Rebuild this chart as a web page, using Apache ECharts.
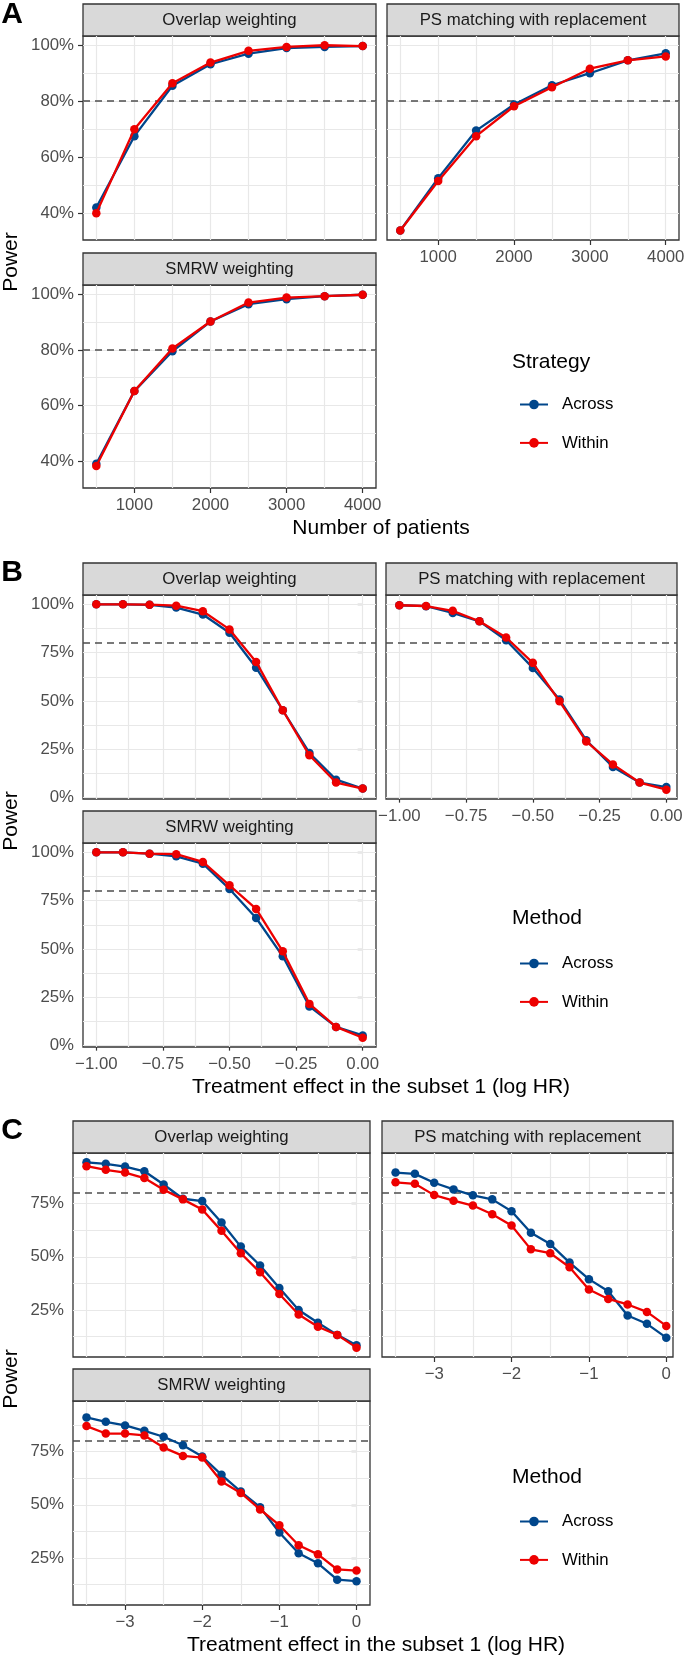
<!DOCTYPE html>
<html>
<head>
<meta charset="utf-8">
<title>Power curves</title>
<script src="https://cdn.jsdelivr.net/npm/echarts@6/dist/echarts.min.js"></script>
<style>
html, body { margin: 0; padding: 0; background: #fff; }
#chart { width: 685px; height: 1657px; }
</style>
</head>
<body>
<div id="chart"></div>
<script>
// ---- data ----
var patients = [500, 1000, 1500, 2000, 2500, 3000, 3500, 4000];
var logHrB = [-1, -0.9, -0.8, -0.7, -0.6, -0.5, -0.4, -0.3, -0.2, -0.1, 0];
var logHrC = [-3.5, -3.25, -3, -2.75, -2.5, -2.25, -2, -1.75, -1.5, -1.25, -1, -0.75, -0.5, -0.25, 0];

// A: power vs number of patients
var aOverlapAcross = [42, 67.5, 85.5, 93.2, 97, 99, 99.4, 99.7];
var aOverlapWithin = [40, 70, 86.4, 93.8, 98, 99.4, 100, 99.7];
var aPsAcross = [33.8, 52.5, 69.5, 78.8, 85.7, 90, 94.6, 97.1];
var aPsWithin = [33.8, 51.5, 67.5, 78.2, 85, 91.6, 94.6, 96];
var aSmrwAcross = [39.1, 65.2, 79.5, 90.2, 96.4, 98.2, 99.3, 99.8];
var aSmrwWithin = [38.3, 65.2, 80.5, 90.2, 97, 98.8, 99.3, 99.8];

// B: power vs treatment effect (log HR), -1..0
var bOverlapAcross = [100, 100, 99.7, 98.3, 94.7, 85.3, 67.2, 45.2, 23.1, 9.3, 4.7];
var bOverlapWithin = [100, 100, 99.8, 99.3, 96.4, 87, 70.2, 45.2, 21.9, 7.8, 4.7];
var bPsAcross = [99.5, 99, 95.5, 91.2, 81.4, 67.1, 50.7, 29.7, 15.9, 7.8, 5.5];
var bPsWithin = [99.5, 99.1, 96.6, 91.2, 82.8, 69.7, 49.8, 29.1, 17.2, 7.8, 4.1];
var bSmrwAcross = [100, 100, 99.3, 97.9, 94.1, 81, 66, 46.2, 20.3, 9.7, 5.3];
var bSmrwWithin = [100, 100, 99.3, 99, 95, 82.9, 70.7, 48.8, 21.6, 9.7, 4.1];

// C: power vs treatment effect (log HR), -3.5..0
var cOverlapAcross = [94.4, 93.7, 92.4, 90.2, 84, 77.3, 76.2, 66.1, 54.8, 45.9, 35.3, 25, 19, 13.3, 8.4];
var cOverlapWithin = [92.6, 90.9, 89.6, 87, 81.5, 77, 72.2, 62.2, 51.7, 42.7, 32.5, 22.9, 17.1, 13.3, 7.3];
var cPsAcross = [89.6, 89, 84.8, 81.7, 78.9, 77, 71.4, 61.3, 56, 47.3, 39.5, 33.8, 22.4, 18.5, 12];
var cPsWithin = [85, 84.3, 79, 76.4, 74.1, 70, 64.7, 53.5, 51.7, 45.1, 34.6, 30.2, 27.6, 24.1, 17.5];
var cSmrwAcross = [91.1, 89, 87.3, 84.8, 82, 78, 72.7, 64.1, 56.2, 48.9, 37, 27.2, 22.5, 14.8, 14.1];
var cSmrwWithin = [87, 83.5, 83.5, 82.6, 76.9, 73, 72.2, 61, 55.6, 47.8, 40.4, 31, 26.7, 19.6, 19.1];

// tick / grid values
var xTicksA = [1000, 2000, 3000, 4000];
var xMinorA = [500, 1500, 2500, 3500];
var yTicksA = [40, 60, 80, 100];
var yMinorA = [50, 70, 90];
var xTicksB = [-1, -0.75, -0.5, -0.25, 0];
var xMinorB = [-0.875, -0.625, -0.375, -0.125];
var yTicksB = [0, 25, 50, 75, 100];
var yMinorB = [12.5, 37.5, 62.5, 87.5];
var xTicksC = [-3, -2, -1, 0];
var xMinorC = [-3.5, -2.5, -1.5, -0.5];
var yTicksC = [25, 50, 75];
var yMinorC = [12.5, 37.5, 62.5, 87.5];

var target = 80;
var seriesNames = ['Across', 'Within'];

var BLUE = '#00468B';
var RED = '#ED0000';
var FONT = '"Liberation Sans", Arial, Helvetica, sans-serif';

function minus(s) { return String(s).replace('-', '\u2212'); }
var fmtA = function (v) { return String(v); };
var fmtB = function (v) { return minus(v.toFixed(2)); };
var fmtC = function (v) { return minus(v); };

var scaleA = { x: [325, 4175], y: [30.4, 103.3], xt: xTicksA, xm: xMinorA, yt: yTicksA, ym: yMinorA, fx: fmtA, xs: patients };
var scaleB = { x: [-1.05, 0.05], y: [-0.7, 104.8], xt: xTicksB, xm: xMinorB, yt: yTicksB, ym: yMinorB, fx: fmtB, xs: logHrB };
var scaleC = { x: [-3.675, 0.175], y: [2.9, 98.8], xt: xTicksC, xm: xMinorC, yt: yTicksC, ym: yMinorC, fx: fmtC, xs: logHrC };

var panels = [
    { s: scaleA, title: 'Overlap weighting', box: [83, 36, 293, 204], xl: false, yl: true, a: aOverlapAcross, w: aOverlapWithin },
    { s: scaleA, title: 'PS matching with replacement', box: [387, 36, 292, 204], xl: true, yl: false, a: aPsAcross, w: aPsWithin },
    { s: scaleA, title: 'SMRW weighting', box: [83, 285, 293, 203], xl: true, yl: true, a: aSmrwAcross, w: aSmrwWithin },
    { s: scaleB, title: 'Overlap weighting', box: [83, 595, 293, 204], xl: false, yl: true, a: bOverlapAcross, w: bOverlapWithin },
    { s: scaleB, title: 'PS matching with replacement', box: [386, 595, 291, 204], xl: true, yl: false, a: bPsAcross, w: bPsWithin, xmax: 0.04 },
    { s: scaleB, title: 'SMRW weighting', box: [83, 843, 293, 204], xl: true, yl: true, a: bSmrwAcross, w: bSmrwWithin },
    { s: scaleC, title: 'Overlap weighting', box: [73, 1153, 297, 204], xl: false, yl: true, a: cOverlapAcross, w: cOverlapWithin },
    { s: scaleC, title: 'PS matching with replacement', box: [382, 1153, 291, 204], xl: true, yl: false, a: cPsAcross, w: cPsWithin, xmax: 0.087 },
    { s: scaleC, title: 'SMRW weighting', box: [73, 1401, 297, 204], xl: true, yl: true, a: cSmrwAcross, w: cSmrwWithin }
];

function pairs(xs, ys) {
    return xs.map(function (x, i) { return [x, ys[i]]; });
}

var grids = [], xAxes = [], yAxes = [], series = [], graphics = [];

panels.forEach(function (p, i) {
    var b = p.box, s = p.s;
    grids.push({
        left: b[0], top: b[1], width: b[2], height: b[3],
        show: true, backgroundColor: '#ffffff', borderColor: '#333333', borderWidth: 1.3,
        containLabel: false, outerBoundsMode: 'none'
    });
    xAxes.push({
        type: 'value', gridIndex: i, min: s.x[0], max: p.xmax !== undefined ? p.xmax : s.x[1],
        axisLine: { show: false }, splitLine: { show: false },
        axisTick: { show: p.xl, customValues: s.xt, length: 5, lineStyle: { color: '#333333', width: 1.2 } },
        axisLabel: { show: p.xl, customValues: s.xt, formatter: s.fx, color: '#4D4D4D', fontSize: 16.8, fontFamily: FONT, margin: 9 }
    });
    yAxes.push({
        type: 'value', gridIndex: i, min: s.y[0], max: s.y[1],
        axisLine: { show: false }, splitLine: { show: false },
        axisTick: { show: p.yl, customValues: s.yt, length: 5, lineStyle: { color: '#333333', width: 1.2 } },
        axisLabel: { show: p.yl, customValues: s.yt, formatter: '{value}%', color: '#4D4D4D', fontSize: 16.8, fontFamily: FONT, margin: 9 }
    });

    // panel grid lines + 80% reference line, kept under the data
    var lines = [];
    s.xt.concat(s.xm).forEach(function (v) { lines.push({ xAxis: v }); });
    s.yt.concat(s.ym).forEach(function (v) { lines.push({ yAxis: v }); });
    lines.push({ yAxis: target, lineStyle: { color: '#4D4D4D', width: 1.7, type: [7, 5] } });
    series.push({
        type: 'line', xAxisIndex: i, yAxisIndex: i, data: [], silent: true, z: 1,
        markLine: {
            z: 1, silent: true, symbol: ['none', 'none'], label: { show: false }, animation: false,
            lineStyle: { color: '#E8E8E8', width: 1.2, type: 'solid' },
            emphasis: { disabled: true },
            data: lines
        }
    });

    [[p.a, BLUE], [p.w, RED]].forEach(function (d, k) {
        series.push({
            name: seriesNames[k], type: 'line', xAxisIndex: i, yAxisIndex: i,
            data: pairs(s.xs, d[0]), z: 3 + k,
            symbol: 'circle', symbolSize: 8.5, showSymbol: true,
            itemStyle: { color: d[1], borderWidth: 0 },
            lineStyle: { color: d[1], width: 2.3 },
            emphasis: { disabled: true }, animation: false
        });
    });

    // facet strip
    graphics.push({
        type: 'rect', shape: { x: b[0], y: b[1] - 32, width: b[2], height: 32 },
        style: { fill: '#D9D9D9', stroke: '#333333', lineWidth: 1.3 }
    });
    graphics.push({
        type: 'text', x: b[0] + b[2] / 2, y: b[1] - 16,
        style: { text: p.title, fill: '#1A1A1A', fontSize: 16.8, fontFamily: FONT, align: 'center', verticalAlign: 'middle' }
    });
});

function txt(x, y, t, size, extra) {
    var g = {
        type: 'text', x: x, y: y,
        style: { text: t, fill: '#000000', fontSize: size, fontFamily: FONT, align: 'center', verticalAlign: 'middle' }
    };
    if (extra) { for (var k in extra) g[k] = extra[k]; }
    return g;
}

// panel letters
['A', 'B', 'C'].forEach(function (l, k) {
    var g = txt(12, [15, 573, 1131][k], l, 30, null);
    g.style.fontWeight = 'bold';
    graphics.push(g);
});

// axis titles
graphics.push(txt(381, 528, 'Number of patients', 21, null));
graphics.push(txt(381, 1087, 'Treatment effect in the subset 1 (log HR)', 21, null));
graphics.push(txt(376, 1645, 'Treatment effect in the subset 1 (log HR)', 21, null));
graphics.push(txt(11, 262, 'Power', 21, { rotation: Math.PI / 2 }));
graphics.push(txt(11, 821, 'Power', 21, { rotation: Math.PI / 2 }));
graphics.push(txt(11, 1379, 'Power', 21, { rotation: Math.PI / 2 }));

// legend titles + keys
var legTitles = [['Strategy', 362, 397], ['Method', 918, 956], ['Method', 1477, 1514]];
var legends = [];
legTitles.forEach(function (l) {
    var g = txt(512, l[1], l[0], 21, null);
    g.style.align = 'left';
    graphics.push(g);
    legends.push({
        data: seriesNames, orient: 'vertical', left: 514, top: l[2] - 6,
        itemWidth: 28, itemHeight: 12, itemGap: 21.4, selectedMode: false,
        textStyle: { fontSize: 16.8, fontFamily: FONT, color: '#000000', padding: [0, 0, 0, 9] }
    });
});

var myChart = echarts.init(document.getElementById('chart'), null, { renderer: 'canvas' });
myChart.setOption({
    backgroundColor: '#ffffff',
    animation: false,
    grid: grids,
    xAxis: xAxes,
    yAxis: yAxes,
    legend: legends,
    series: series,
    graphic: graphics
});
</script>
</body>
</html>
